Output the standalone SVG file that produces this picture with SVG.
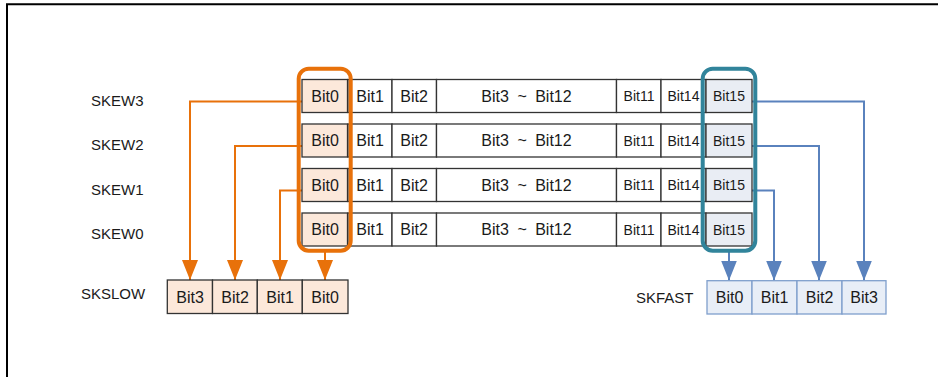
<svg xmlns="http://www.w3.org/2000/svg" width="938" height="377" viewBox="0 0 938 377">
<style>
text{font-family:"Liberation Sans",Arial,sans-serif;fill:#1a1a1a}
.lbl{font-size:15px}
.t{font-size:16px;text-anchor:middle}
.s{font-size:14px;text-anchor:middle}
.cell{fill:#ffffff;stroke:#333333;stroke-width:1.3}
.o{fill:#fce8da;stroke:#333333;stroke-width:1.3}
.b{fill:#e9edf4;stroke:#333333;stroke-width:1.3}
.fb{fill:#e8eef7;stroke:#7f9fcc;stroke-width:1.3}
.ol{fill:none;stroke:#e8710a;stroke-width:2}
.bl{fill:none;stroke:#5a82bd;stroke-width:2}
</style>
<defs>
<marker id="ao" viewBox="0 0 20 16" refX="20" refY="8" markerWidth="20" markerHeight="16" markerUnits="userSpaceOnUse" orient="auto"><path d="M0,0 L20,8 L0,16 z" fill="#e8710a"/></marker>
<marker id="ab" viewBox="0 0 20 16" refX="20" refY="8" markerWidth="20" markerHeight="16" markerUnits="userSpaceOnUse" orient="auto"><path d="M0,0 L20,8 L0,16 z" fill="#5a82bd"/></marker>
</defs>
<rect width="938" height="377" fill="#ffffff"/>
<path d="M7 377 V4.3 H938" fill="none" stroke="#000000" stroke-width="2"/>

<g id="labels">
<text class="lbl" x="91" y="105.5">SKEW3</text>
<text class="lbl" x="91" y="150">SKEW2</text>
<text class="lbl" x="91" y="194.5">SKEW1</text>
<text class="lbl" x="91" y="239">SKEW0</text>
<text class="lbl" x="81" y="299">SKSLOW</text>
<text class="lbl" x="636" y="302.5">SKFAST</text>
</g>

<g id="connectors">
<path class="ol" d="M302 101.5 H190 V280" marker-end="url(#ao)"/>
<path class="ol" d="M302 146 H235 V280" marker-end="url(#ao)"/>
<path class="ol" d="M302 190.5 H280 V280" marker-end="url(#ao)"/>
<path class="ol" d="M325 252 V280" marker-end="url(#ao)"/>
<path class="bl" d="M752 101.5 H864 V280.5" marker-end="url(#ab)"/>
<path class="bl" d="M752 146 H819 V280.5" marker-end="url(#ab)"/>
<path class="bl" d="M752 190.5 H774 V280.5" marker-end="url(#ab)"/>
<path class="bl" d="M729 252 V280.5" marker-end="url(#ab)"/>
</g>

<g id="skew3">
<rect class="o" x="302" y="79.5" width="45.5" height="33"/>
<rect class="cell" x="348" y="79.5" width="44" height="33"/>
<rect class="cell" x="392" y="79.5" width="44.5" height="33"/>
<rect class="cell" x="436.5" y="79.5" width="180" height="33"/>
<rect class="cell" x="616.5" y="79.5" width="44.5" height="33"/>
<rect class="cell" x="661" y="79.5" width="45" height="33"/>
<rect class="b" x="706" y="79.5" width="46" height="33"/>
<text class="t" x="325" y="101.5">Bit0</text>
<text class="t" x="370" y="101.5">Bit1</text>
<text class="t" x="414" y="101.5">Bit2</text>
<text class="t" x="526.5" y="101.5" word-spacing="4">Bit3 ~ Bit12</text>
<text class="s" x="639" y="101">Bit11</text>
<text class="s" x="683.5" y="101">Bit14</text>
<text class="s" x="729" y="101">Bit15</text>
</g>

<g id="skew2">
<rect class="o" x="302" y="124" width="45.5" height="33"/>
<rect class="cell" x="348" y="124" width="44" height="33"/>
<rect class="cell" x="392" y="124" width="44.5" height="33"/>
<rect class="cell" x="436.5" y="124" width="180" height="33"/>
<rect class="cell" x="616.5" y="124" width="44.5" height="33"/>
<rect class="cell" x="661" y="124" width="45" height="33"/>
<rect class="b" x="706" y="124" width="46" height="33"/>
<text class="t" x="325" y="146">Bit0</text>
<text class="t" x="370" y="146">Bit1</text>
<text class="t" x="414" y="146">Bit2</text>
<text class="t" x="526.5" y="146" word-spacing="4">Bit3 ~ Bit12</text>
<text class="s" x="639" y="145.5">Bit11</text>
<text class="s" x="683.5" y="145.5">Bit14</text>
<text class="s" x="729" y="145.5">Bit15</text>
</g>

<g id="skew1">
<rect class="o" x="302" y="168.5" width="45.5" height="33"/>
<rect class="cell" x="348" y="168.5" width="44" height="33"/>
<rect class="cell" x="392" y="168.5" width="44.5" height="33"/>
<rect class="cell" x="436.5" y="168.5" width="180" height="33"/>
<rect class="cell" x="616.5" y="168.5" width="44.5" height="33"/>
<rect class="cell" x="661" y="168.5" width="45" height="33"/>
<rect class="b" x="706" y="168.5" width="46" height="33"/>
<text class="t" x="325" y="190.5">Bit0</text>
<text class="t" x="370" y="190.5">Bit1</text>
<text class="t" x="414" y="190.5">Bit2</text>
<text class="t" x="526.5" y="190.5" word-spacing="4">Bit3 ~ Bit12</text>
<text class="s" x="639" y="190">Bit11</text>
<text class="s" x="683.5" y="190">Bit14</text>
<text class="s" x="729" y="190">Bit15</text>
</g>

<g id="skew0">
<rect class="o" x="302" y="213" width="45.5" height="33"/>
<rect class="cell" x="348" y="213" width="44" height="33"/>
<rect class="cell" x="392" y="213" width="44.5" height="33"/>
<rect class="cell" x="436.5" y="213" width="180" height="33"/>
<rect class="cell" x="616.5" y="213" width="44.5" height="33"/>
<rect class="cell" x="661" y="213" width="45" height="33"/>
<rect class="b" x="706" y="213" width="46" height="33"/>
<text class="t" x="325" y="235">Bit0</text>
<text class="t" x="370" y="235">Bit1</text>
<text class="t" x="414" y="235">Bit2</text>
<text class="t" x="526.5" y="235" word-spacing="4">Bit3 ~ Bit12</text>
<text class="s" x="639" y="234.5">Bit11</text>
<text class="s" x="683.5" y="234.5">Bit14</text>
<text class="s" x="729" y="234.5">Bit15</text>
</g>

<g id="bit0-group">
<rect x="298.7" y="68.7" width="52" height="182" rx="10" fill="none" stroke="#e8710a" stroke-width="4"/>
</g>
<g id="bit15-group">
<rect x="702.7" y="68.7" width="52.6" height="182" rx="10" fill="none" stroke="#31849b" stroke-width="4"/>
</g>

<g id="skslow">
<rect class="o" x="167.3" y="280" width="45.2" height="33.5"/>
<rect class="o" x="212.5" y="280" width="44.8" height="33.5"/>
<rect class="o" x="257.3" y="280" width="45" height="33.5"/>
<rect class="o" x="302.3" y="280" width="45.7" height="33.5"/>
<text class="t" x="190" y="302.5">Bit3</text>
<text class="t" x="235" y="302.5">Bit2</text>
<text class="t" x="280" y="302.5">Bit1</text>
<text class="t" x="325" y="302.5">Bit0</text>
</g>

<g id="skfast">
<rect class="fb" x="707" y="280.7" width="45" height="33.3"/>
<rect class="fb" x="752" y="280.7" width="45" height="33.3"/>
<rect class="fb" x="797" y="280.7" width="45" height="33.3"/>
<rect class="fb" x="842" y="280.7" width="44" height="33.3"/>
<text class="t" x="729.5" y="303">Bit0</text>
<text class="t" x="774.5" y="303">Bit1</text>
<text class="t" x="819.5" y="303">Bit2</text>
<text class="t" x="864" y="303">Bit3</text>
</g>
</svg>
